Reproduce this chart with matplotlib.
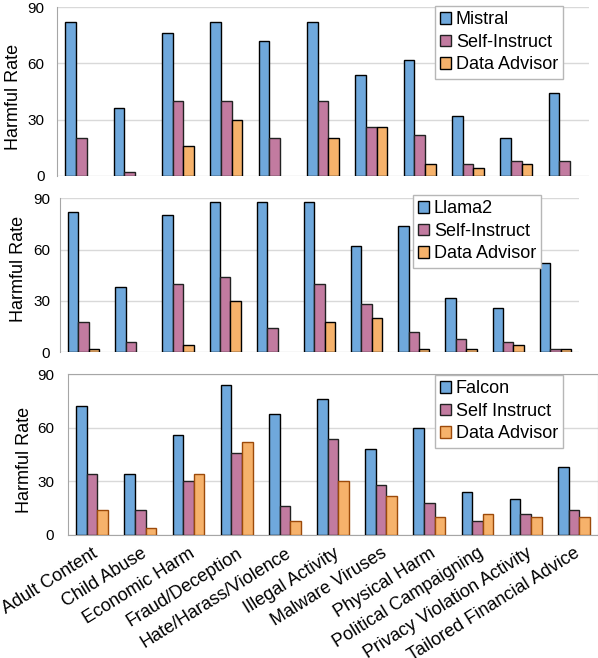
import matplotlib
matplotlib.use("Agg")
import matplotlib.pyplot as plt
import numpy as np

plt.rcParams['font.family'] = ['Liberation Sans', 'DejaVu Sans']

categories = ["Adult Content", "Child Abuse", "Economic Harm", "Fraud/Deception",
              "Hate/Harass/Violence", "Illegal Activity", "Malware Viruses",
              "Physical Harm", "Political Campaigning", "Privacy Violation Activity",
              "Tailored Financial Advice"]

mistral = [82, 36, 76, 82, 72, 82, 54, 62, 32, 20, 44]
mistral_self_instruct = [20, 2, 40, 40, 20, 40, 26, 22, 6, 8, 8]
mistral_data_advisor = [0, 0, 16, 30, 0, 20, 26, 6, 4, 6, 0]

llama2 = [82, 38, 80, 88, 88, 88, 62, 74, 32, 26, 52]
llama2_self_instruct = [18, 6, 40, 44, 14, 40, 28, 12, 8, 6, 2]
llama2_data_advisor = [2, 0, 4, 30, 0, 18, 20, 2, 2, 4, 2]

falcon = [72, 34, 56, 84, 68, 76, 48, 60, 24, 20, 38]
falcon_self_instruct = [34, 14, 30, 46, 16, 54, 28, 18, 8, 12, 14]
falcon_data_advisor = [14, 4, 34, 52, 8, 30, 22, 10, 12, 10, 10]

yticks = [0, 30, 60, 90]

BLUE = "#6fa8dc"
PURPLE = "#c27ba0"
ORANGE = "#f6b26b"
GRID = "#d9d9d9"

W, H = 598, 658
fig = plt.figure(figsize=(W / 100, H / 100), dpi=100)


def px_axes(left, right, top, bottom):
    return fig.add_axes([left / W, 1 - bottom / H, (right - left) / W, (bottom - top) / H])


panels = [
    # (bounds, series, labels, legend corner, ylabel pos, ytick pad, orange edge, full box)
    ((57, 589, 7.3, 175.7), (mistral, mistral_self_instruct, mistral_data_advisor),
     ["Mistral", "Self-Instruct", "Data Advisor"], (435, 6), (13.5, 97), 9, "black", False),
    ((60, 579, 198.3, 352.3), (llama2, llama2_self_instruct, llama2_data_advisor),
     ["Llama2", "Self-Instruct", "Data Advisor"], (413, 195), (19, 268.5), 7, "black", False),
    ((68, 598, 374.3, 535), (falcon, falcon_self_instruct, falcon_data_advisor),
     ["Falcon", "Self Instruct", "Data Advisor"], (435, 375), (25, 460), 10, "#9c4a0a", True),
]

x = np.arange(len(categories))
w = 0.22

for i, (bounds, series, labels, leg_xy, ylab_xy, pad, oedge, box) in enumerate(panels):
    ax = px_axes(*bounds)
    edges = ["black", "#222222", oedge]
    for k, (vals, col, lab) in enumerate(zip(series, [BLUE, PURPLE, ORANGE], labels)):
        # zero-height bars are not drawn in the original
        lws = [1.0 if v > 0 else 0.0 for v in vals]
        ax.bar(x + (k - 1) * w, vals, width=w, color=col, edgecolor=edges[k],
               linewidth=lws, label=lab, zorder=3)
    ax.set_xlim(-0.5, len(categories) - 0.5)
    ax.set_ylim(0, 90)
    ax.set_yticks(yticks)
    ax.tick_params(axis='y', length=0, pad=pad, labelsize=11, colors="black")
    ax.grid(axis='y', color=GRID, linewidth=1.0, zorder=0)
    for s in ["top", "right", "bottom", "left"]:
        ax.spines[s].set_visible(box)
        ax.spines[s].set_color("#a6a6a6")
    ax.spines["left"].set_visible(True)
    ax.spines["left"].set_color("#a6a6a6")
    ax.set_xticks(x)
    if i == 2:
        ax.set_xticklabels(categories, rotation=32, ha='right', rotation_mode='anchor',
                           fontsize=13)
        ax.tick_params(axis='x', length=0, pad=7)
    else:
        ax.tick_params(axis='x', length=0, labelbottom=False)
    fig.text(ylab_xy[0] / W, 1 - ylab_xy[1] / H, "Harmful Rate", rotation=90,
             ha='center', va='center', fontsize=13)
    leg = ax.legend(loc='upper left', bbox_to_anchor=(leg_xy[0] / W, 1 - leg_xy[1] / H),
                    bbox_transform=fig.transFigure, borderaxespad=0, fontsize=13,
                    frameon=True, fancybox=False, framealpha=1, edgecolor="#b7b7b7",
                    handlelength=0.6, handleheight=0.6, handletextpad=0.25,
                    labelspacing=0.3, borderpad=0.3)
    for h in leg.legend_handles:
        h.set_linewidth(1.0)
    leg.get_frame().set_linewidth(1.0)
    leg.set_zorder(5)

fig.savefig("out.png", dpi=100)
